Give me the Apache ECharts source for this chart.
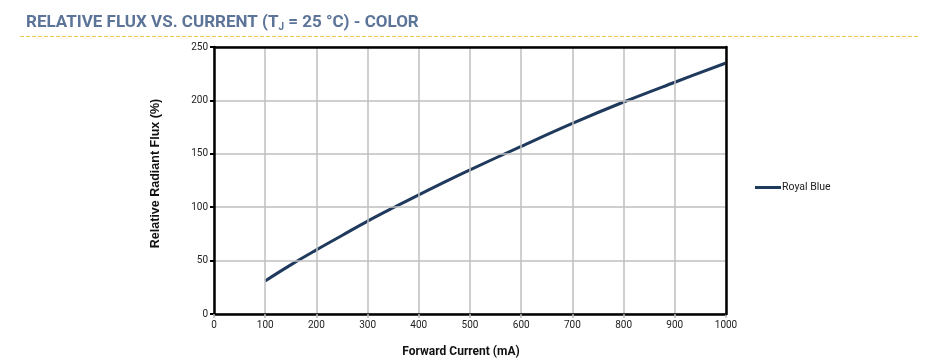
<!DOCTYPE html>
<html><head><meta charset="utf-8">
<script src="https://cdn.jsdelivr.net/npm/echarts@6/dist/echarts.min.js"></script>
<style>html,body{margin:0;padding:0;background:#fff}#c{width:940px;height:363px}</style>
</head><body><div id="c"></div>
<script>
const currents = [100, 150, 200, 250, 300, 350, 400, 450, 500, 600, 700, 800, 900, 1000];
const royalBlue = [31, 46, 60, 73.5, 87, 99.5, 111.5, 123.5, 135, 157, 178.5, 198.5, 217, 235];
const xTicks = [0, 100, 200, 300, 400, 500, 600, 700, 800, 900, 1000];
const yTicks = [0, 50, 100, 150, 200, 250];

const chart = echarts.init(document.getElementById('c'), null, {renderer: 'canvas'});
const frameAxis = {
  show: true,
  axisLine: {show: true, onZero: false, lineStyle: {color: '#000', width: 2.5}},
  axisTick: {show: false}, axisLabel: {show: false}, splitLine: {show: false}
};
chart.setOption({
  animation: false,
  title: {
    left: 21, top: 9,
    text: '{a|RELATIVE FLUX VS. CURRENT (T}{s|J}{a| = 25 °C) - COLOR}',
    textStyle: {
      rich: {
        a: {fontFamily: 'Roboto', fontWeight: 'bold', fontSize: 17, color: '#5d7499'},
        s: {fontFamily: 'Roboto', fontWeight: 'bold', fontSize: 10, color: '#5d7499', verticalAlign: 'bottom', padding: [8, 0, 0, 0]}
      }
    }
  },
  graphic: [{
    type: 'line', shape: {x1: 20, y1: 36.5, x2: 920, y2: 36.5},
    style: {stroke: '#eccb4f', lineWidth: 1, lineDash: [4, 2]}
  }],
  legend: {
    left: 750, top: 177, itemWidth: 26, itemHeight: 3, itemGap: 2,
    icon: 'rect',
    textStyle: {fontFamily: 'Roboto', fontSize: 10.5, color: '#222', padding: [0, 0, 0, -4]},
    data: ['Royal Blue']
  },
  grid: {left: 214, right: 214, top: 47, bottom: 49, containLabel: false},
  xAxis: [{
    type: 'value', min: 0, max: 1000, interval: 100,
    name: 'Forward Current (mA)', nameLocation: 'middle', nameGap: 32,
    nameTextStyle: {fontFamily: 'Roboto', fontWeight: 'bold', fontSize: 12, color: '#111', padding: [0, 18, 0, 0]},
    axisLine: {show: true, onZero: false, lineStyle: {color: '#000', width: 2.5}},
    axisTick: {show: true, length: 4, lineStyle: {color: '#bfbfbf', width: 1.5}},
    axisLabel: {fontFamily: 'Roboto', fontSize: 10, color: '#222', margin: 6,
      formatter: v => xTicks.includes(v) ? String(v) : ''},
    splitLine: {show: true, lineStyle: {color: '#bfbfbf', width: 1.5}},
    z: 5
  }, Object.assign({type: 'value', position: 'top', min: 0, max: 1000, z: 6}, frameAxis)],
  yAxis: [{
    type: 'value', min: 0, max: 250, interval: 50,
    name: 'Relative Radiant Flux (%)', nameLocation: 'middle', nameGap: 52, nameRotate: 90,
    nameTextStyle: {fontFamily: 'Liberation Sans', fontWeight: 'bold', fontSize: 12.5, color: '#111', padding: [0, 0, 0, 14]},
    axisLine: {show: true, onZero: false, lineStyle: {color: '#000', width: 2.5}},
    axisTick: {show: true, length: 4, lineStyle: {color: '#000', width: 2}},
    axisLabel: {fontFamily: 'Roboto', fontSize: 10, color: '#222', margin: 6,
      formatter: v => yTicks.includes(v) ? String(v) : ''},
    splitLine: {show: true, lineStyle: {color: '#bfbfbf', width: 1.5}},
    z: 5
  }, Object.assign({type: 'value', position: 'right', min: 0, max: 250, z: 6}, frameAxis)],
  series: [{
    name: 'Royal Blue', type: 'line', smooth: 0.4, showSymbol: false,
    lineStyle: {color: '#1f3a5c', width: 3}, itemStyle: {color: '#1f3a5c'},
    data: currents.map((c, i) => [c, royalBlue[i]])
  }]
});
</script></body></html>
